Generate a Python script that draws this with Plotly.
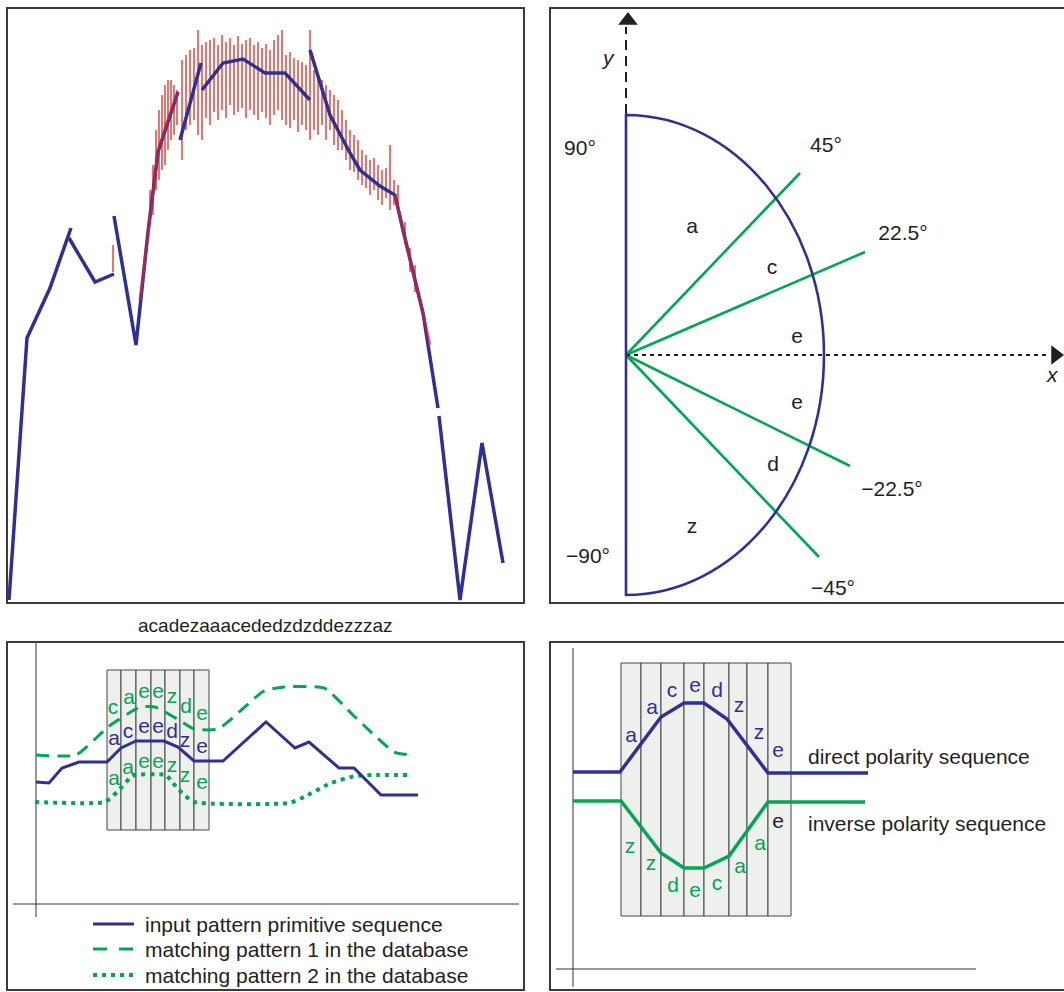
import plotly.graph_objects as go

W, H = 1064, 992
FONT = "Liberation Sans, Arial, Helvetica, sans-serif"
BLUE = "#2e3192"
GREEN = "#00a651"
INK = "#231f20"
RED = "rgba(228,48,38,0.85)"
FRAME = "#3a3a3a"

# ---------------- Panel A : signal trace (units = screen scale) ----------------
sig_x = [9, 27, 50, 71, None, 69, 95, 114, None, 114, 136, 148, 158, 178, None,
         180, 201, None, 202, 223, 243, 253, 265, 285, 310, None,
         310, 330, 350, 360, 380, 395, 403, 413, 423, 438, None, 439, 460, 482, 503]
sig_y = [600, 338, 288, 228, None, 238, 282, 274, None, 216, 345, 232, 152, 92, None,
         140, 63, None, 90, 63, 59, 65, 73, 73, 100, None,
         50, 115, 153, 170, 186, 195, 230, 273, 313, 408, None, 416, 600, 443, 563]
raw_x = [140, 148, 158, 168, 178, None, 395, 403, 413, 423, 430]
raw_y = [300, 232, 152, 120, 92, None, 195, 230, 273, 313, 345]
hatch_x = [113, 150, 153, 156, 159, 162, 165, 168, 171, 174, 177,
           182, 186, 190, 194, 198, 202, 206, 210, 214, 218, 222, 226, 230, 234, 238, 242,
           246, 250, 254, 258, 262, 266, 270, 274, 278, 282, 286, 290, 294, 298, 302, 306, 310,
           314, 318, 322, 326, 330, 334, 338, 342, 346, 350, 354, 358, 362, 366, 370, 374,
           378, 382, 386, 390, 394, 398, 405, 410, 415]
hatch_top = [245, 190, 165, 130, 110, 95, 85, 80, 80, 85, 90,
             60, 55, 50, 48, 30, 45, 42, 40, 38, 45, 35, 42, 38, 45, 36, 44,
             40, 38, 45, 42, 48, 44, 50, 40, 35, 30, 55, 52, 58, 60, 62, 65, 30,
             70, 75, 80, 85, 90, 95, 100, 110, 120, 130, 135, 140, 150, 155, 160, 158,
             165, 170, 168, 145, 180, 185, 222, 248, 265]
hatch_bot = [272, 225, 215, 190, 180, 170, 165, 150, 140, 135, 125,
             160, 130, 125, 120, 135, 140, 118, 125, 112, 120, 110, 118, 105, 115, 112, 108,
             118, 110, 115, 120, 112, 118, 125, 115, 110, 120, 125, 128, 120, 132, 125, 130, 140,
             130, 135, 125, 140, 130, 145, 150, 150, 160, 170, 172, 180, 185, 188, 195, 190,
             200, 205, 198, 210, 205, 210, 245, 272, 292]
caption = "acadezaaacededzdzddezzzaz"

# ---------------- Panel B : direction sectors (origin at centre) ----------------
arc_rx, arc_ry = 198, 240
ray_x = [174, 239, 224, 193]
ray_y = [182, 103, -111, -202]
angle_labels = ["90°", "−90°", "45°", "22.5°", "−22.5°", "−45°"]
angle_lx = [-46, -38, 200, 277, 266, 207]
angle_ly = [205, -203, 208, 120, -136, -235]
sector_letters = ["a", "c", "e", "e", "d", "z"]
sector_lx = [66, 146, 171, 171, 147, 66]
sector_ly = [127, 86, 17, -49, -111, -173]
yaxis_line = [241, 328]
xaxis_line = [0, 420]

# ---------------- Panel C : pattern matching ----------------
c_cols = [107, 121, 136, 151, 165, 180, 194, 209]
c_box = [670, 830]
input_x = [36, 49, 62, 79, 107, 121, 136, 164, 178, 194, 223, 266, 295, 309, 339, 354, 381, 418]
input_y = [782, 783, 768, 762, 762, 748, 741, 741, 747, 761, 761, 722, 748, 742, 768, 768, 795, 795]
p1_x = [36, 76, 108, 140, 155, 179, 194, 218, 264, 284, 324, 355, 394, 410]
p1_y = [755, 755, 727, 707, 707, 720, 729, 729, 691, 687, 688, 717, 752, 755]
p2_x = [35, 105, 117, 130, 135, 166, 172, 182, 194, 289, 304, 331, 355, 372, 409]
p2_y = [802, 802, 792, 778, 775, 775, 782, 793, 802, 803, 797, 783, 776, 775, 775]
c_in_letters = list("aceedze")
c_in_x = [114, 128, 144, 158, 172, 185, 202]
c_in_y = [740, 733, 728, 728, 733, 742, 748]
c_p1_letters = list("caeezde")
c_p1_x = [113, 129, 144, 158, 172, 186, 202]
c_p1_y = [709, 699, 693, 693, 698, 708, 715]
c_p2_letters = list("aaeezze")
c_p2_x = [114, 128, 144, 158, 172, 185, 202]
c_p2_y = [780, 769, 763, 763, 767, 777, 784]
legend_names = ["input pattern primitive sequence",
                "matching pattern 1 in the database",
                "matching pattern 2 in the database"]
legend_y = [924, 949, 975]

# ---------------- Panel D : polarity ----------------
d_cols = [621, 641, 661, 684, 704, 729, 747, 768, 791]
d_box = [663, 916]
direct_x = [573, 620, 661, 684, 704, 727, 768, 868]
direct_y = [772, 772, 717, 703, 703, 719, 773, 773]
inverse_x = [573, 621, 661, 684, 704, 729, 768, 865]
inverse_y = [801, 801, 853, 868, 868, 856, 802, 802]
d_dir_letters = list("aacedzze")
d_dir_x = [631, 652, 672, 695, 717, 739, 759, 778]
d_dir_y = [737, 709, 692, 687, 692, 707, 734, 752]
d_inv_letters = list("zzdecaa")
d_inv_x = [630, 651, 673, 695, 717, 740, 760]
d_inv_y = [848, 865, 887, 892, 885, 868, 845]
d_extra = ["e"]
d_extra_x = [778]
d_extra_y = [823]
d_labels = ["direct polarity sequence", "inverse polarity sequence"]
d_label_y = [756, 823]

fig = go.Figure()


def text_trace(xs, ys, txt, color, size, xa, ya):
    fig.add_trace(go.Scatter(x=xs, y=ys, text=txt, mode="text", xaxis=xa, yaxis=ya,
                             textfont=dict(family=FONT, size=size, color=color),
                             textposition="middle center", cliponaxis=False,
                             hoverinfo="skip", showlegend=False))


# ---- Panel A
hx, hy = [], []
for x, t, b in zip(hatch_x, hatch_top, hatch_bot):
    hx += [x, x, None]
    hy += [t, b, None]
fig.add_trace(go.Scatter(x=hx, y=hy, mode="lines", line=dict(color=RED, width=1.6),
                         xaxis="x", yaxis="y", hoverinfo="skip", showlegend=False))
fig.add_trace(go.Scatter(x=sig_x, y=sig_y, mode="lines", line=dict(color=BLUE, width=3.5),
                         xaxis="x", yaxis="y", hoverinfo="skip", showlegend=False))
fig.add_trace(go.Scatter(x=raw_x, y=raw_y, mode="lines", line=dict(color="rgba(225,35,55,0.6)", width=3),
                         xaxis="x", yaxis="y", hoverinfo="skip", showlegend=False))

# ---- Panel B
k = 0.5523
path = (f"M 0,{arc_ry} C {arc_rx*k},{arc_ry} {arc_rx},{arc_ry*k} {arc_rx},0 "
        f"C {arc_rx},{-arc_ry*k} {arc_rx*k},{-arc_ry} 0,{-arc_ry} Z")
rx, ry = [], []
for x, y in zip(ray_x, ray_y):
    rx += [0, x, None]
    ry += [0, y, None]
fig.add_trace(go.Scatter(x=rx, y=ry, mode="lines", line=dict(color=GREEN, width=2.6),
                         xaxis="x2", yaxis="y2", hoverinfo="skip", showlegend=False))
fig.add_trace(go.Scatter(x=[0, 0], y=yaxis_line, mode="lines",
                         line=dict(color=INK, width=2, dash="10px,6px"),
                         xaxis="x2", yaxis="y2", hoverinfo="skip", showlegend=False))
fig.add_trace(go.Scatter(x=xaxis_line, y=[0, 0], mode="lines",
                         line=dict(color=INK, width=2, dash="4px,4px"),
                         xaxis="x2", yaxis="y2", hoverinfo="skip", showlegend=False))
fig.add_trace(go.Scatter(x=[2, 429.5], y=[334.5, 0], mode="markers",
                         marker=dict(symbol=["triangle-up", "triangle-right"], size=17, color=INK),
                         xaxis="x2", yaxis="y2", cliponaxis=False, hoverinfo="skip", showlegend=False))
text_trace(angle_lx, angle_ly, angle_labels, INK, 21, "x2", "y2")
text_trace(sector_lx, sector_ly, sector_letters, INK, 21, "x2", "y2")
fig.add_annotation(x=-18, y=297, xref="x2", yref="y2", text="<i>y</i>", showarrow=False,
                   xanchor="center", yanchor="middle", font=dict(family=FONT, size=21, color=INK))
fig.add_annotation(x=426, y=-20, xref="x2", yref="y2", text="<i>x</i>", showarrow=False,
                   xanchor="center", yanchor="middle", font=dict(family=FONT, size=21, color=INK))

# ---- Panel C
cw = [c_cols[i + 1] - c_cols[i] for i in range(len(c_cols) - 1)]
cc = [(c_cols[i + 1] + c_cols[i]) / 2 for i in range(len(c_cols) - 1)]
fig.add_trace(go.Bar(x=cc, y=[c_box[1] - c_box[0]] * len(cc), base=c_box[0], width=cw,
                     marker=dict(color="#eef0ee", line=dict(color="#444", width=1)),
                     xaxis="x3", yaxis="y3", hoverinfo="skip", showlegend=False))
fig.add_trace(go.Scatter(x=[36, 36, None, 13, 519], y=[643, 917, None, 904, 904], mode="lines",
                         line=dict(color="#333", width=1), xaxis="x3", yaxis="y3",
                         hoverinfo="skip", showlegend=False))
fig.add_trace(go.Scatter(x=p1_x, y=p1_y, mode="lines", name=legend_names[1],
                         line=dict(color=GREEN, width=3, dash="13px,8px", shape="spline", smoothing=0.5),
                         xaxis="x3", yaxis="y3", hoverinfo="skip", showlegend=False))
fig.add_trace(go.Scatter(x=p2_x, y=p2_y, mode="lines", name=legend_names[2],
                         line=dict(color=GREEN, width=4, dash="4px,5px", shape="spline", smoothing=0.5),
                         xaxis="x3", yaxis="y3", hoverinfo="skip", showlegend=False))
fig.add_trace(go.Scatter(x=input_x, y=input_y, mode="lines", name=legend_names[0],
                         line=dict(color=BLUE, width=3),
                         xaxis="x3", yaxis="y3", hoverinfo="skip", showlegend=False))
text_trace(c_in_x, c_in_y, c_in_letters, BLUE, 21, "x3", "y3")
text_trace(c_p1_x, c_p1_y, c_p1_letters, GREEN, 21, "x3", "y3")
text_trace(c_p2_x, c_p2_y, c_p2_letters, GREEN, 21, "x3", "y3")
# legend samples
leg_styles = [dict(color=BLUE, width=3), dict(color=GREEN, width=3, dash="14px,12px"),
              dict(color=GREEN, width=4, dash="4px,5px")]
for ly, st, nm in zip(legend_y, leg_styles, legend_names):
    fig.add_trace(go.Scatter(x=[93, 134], y=[ly, ly], mode="lines", line=st,
                             xaxis="x3", yaxis="y3", hoverinfo="skip", showlegend=False))
    fig.add_annotation(x=143, y=ly, xref="x3", yref="y3", text=nm, showarrow=False,
                       xanchor="left", yanchor="middle", font=dict(family=FONT, size=21, color=INK))

# ---- Panel D
dw = [d_cols[i + 1] - d_cols[i] for i in range(len(d_cols) - 1)]
dc = [(d_cols[i + 1] + d_cols[i]) / 2 for i in range(len(d_cols) - 1)]
fig.add_trace(go.Bar(x=dc, y=[d_box[1] - d_box[0]] * len(dc), base=d_box[0], width=dw,
                     marker=dict(color="#eef0ee", line=dict(color="#444", width=1)),
                     xaxis="x4", yaxis="y4", hoverinfo="skip", showlegend=False))
fig.add_trace(go.Scatter(x=[573, 573, None, 556, 976], y=[648, 987, None, 969, 969], mode="lines",
                         line=dict(color="#333", width=1), xaxis="x4", yaxis="y4",
                         hoverinfo="skip", showlegend=False))
fig.add_trace(go.Scatter(x=direct_x, y=direct_y, mode="lines", name=d_labels[0],
                         line=dict(color=BLUE, width=3.5), xaxis="x4", yaxis="y4",
                         hoverinfo="skip", showlegend=False))
fig.add_trace(go.Scatter(x=inverse_x, y=inverse_y, mode="lines", name=d_labels[1],
                         line=dict(color=GREEN, width=3.5), xaxis="x4", yaxis="y4",
                         hoverinfo="skip", showlegend=False))
text_trace(d_dir_x, d_dir_y, d_dir_letters, BLUE, 21, "x4", "y4")
text_trace(d_inv_x, d_inv_y, d_inv_letters, GREEN, 21, "x4", "y4")
text_trace(d_extra_x, d_extra_y, d_extra, INK, 21, "x4", "y4")
for ly, nm in zip(d_label_y, d_labels):
    fig.add_annotation(x=806, y=ly, xref="x4", yref="y4", text=nm, showarrow=False,
                       xanchor="left", yanchor="middle", font=dict(family=FONT, size=21, color=INK))


def dom_x(a, b):
    return [a / W, b / W]


def dom_y(top, bottom):
    return [1 - bottom / H, 1 - top / H]


ax = dict(visible=False, fixedrange=True, showgrid=False, zeroline=False)
fig.update_layout(
    width=W, height=H, margin=dict(l=0, r=0, t=0, b=0),
    paper_bgcolor="white", plot_bgcolor="rgba(0,0,0,0)",
    showlegend=False, barmode="overlay",
    xaxis=dict(ax, domain=dom_x(8, 523), range=[8, 523], anchor="y"),
    yaxis=dict(ax, domain=dom_y(9, 602), range=[602, 9], anchor="x"),
    xaxis2=dict(ax, domain=dom_x(551, 1064), range=[-75, 438], anchor="y2"),
    yaxis2=dict(ax, domain=dom_y(9, 602), range=[-247, 346], anchor="x2"),
    xaxis3=dict(ax, domain=dom_x(8, 523), range=[8, 523], anchor="y3"),
    yaxis3=dict(ax, domain=dom_y(643, 989), range=[989, 643], anchor="x3"),
    xaxis4=dict(ax, domain=dom_x(551, 1064), range=[551, 1064], anchor="y4"),
    yaxis4=dict(ax, domain=dom_y(643, 989), range=[989, 643], anchor="x4"),
)

fig.add_shape(type="path", path=path, xref="x2", yref="y2", line=dict(color=BLUE, width=2.6))

for (x0, x1, y0, y1) in [(7, 524, 8, 603), (550, 1080, 8, 603), (7, 524, 642, 990), (550, 1080, 642, 990)]:
    fig.add_shape(type="rect", xref="paper", yref="paper", x0=x0 / W, x1=x1 / W,
                  y0=1 - y1 / H, y1=1 - y0 / H, line=dict(color=FRAME, width=2))

fig.add_annotation(x=265 / W, y=1 - 625 / H, xref="paper", yref="paper", text=caption,
                   showarrow=False, xanchor="center", yanchor="middle",
                   font=dict(family=FONT, size=19, color=INK))

fig.write_html("out.html", config={"displayModeBar": False},
               post_script="document.body.style.margin='0';")
